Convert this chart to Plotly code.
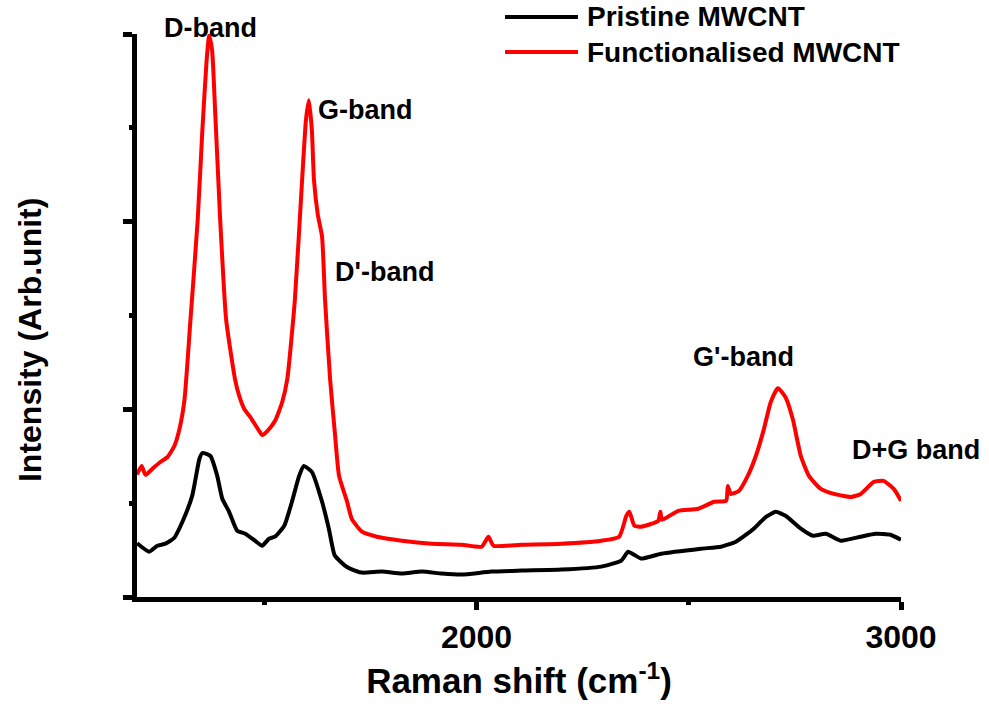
import plotly.graph_objects as go

# Raman shift (cm^-1) and intensity (arb. units)
func_x = [1200, 1211, 1220, 1236, 1255, 1272, 1288, 1300, 1312, 1326, 1343, 1354, 1364, 1370,
          1377, 1384, 1396, 1410, 1431, 1441, 1453, 1467, 1488, 1495, 1507, 1525, 1542, 1554,
          1572, 1589, 1598, 1605, 1612, 1617, 1626, 1636, 1643, 1655, 1666, 1676, 1695, 1706,
          1730, 1765, 1824, 1894, 1965, 2012, 2028, 2040, 2106, 2200, 2294, 2336, 2353, 2360,
          2372, 2388, 2428, 2433, 2437, 2475, 2522, 2560, 2588, 2592, 2599, 2618, 2639, 2658,
          2677, 2693, 2710, 2728, 2745, 2764, 2783, 2811, 2842, 2882, 2905, 2936, 2959, 2983, 3000]
func_y = [980, 1047, 976, 1024, 1079, 1119, 1207, 1342, 1581, 2218, 3015, 3731, 4289, 4488,
          4368, 3891, 3015, 2218, 1740, 1605, 1501, 1438, 1326, 1294, 1326, 1406, 1557, 1740,
          2377, 3333, 3811, 3971, 3732, 3333, 3055, 2879, 2377, 1740, 1318, 968, 761, 625,
          522, 482, 450, 426, 418, 402, 482, 410, 418, 426, 450, 482, 649, 681,
          569, 562, 609, 681, 617, 689, 705, 761, 769, 888, 824, 848, 968, 1127,
          1342, 1557, 1669, 1597, 1422, 1127, 968, 864, 824, 800, 824, 920, 928, 864, 769]

pris_x = [1200, 1229, 1248, 1267, 1288, 1307, 1330, 1347, 1354, 1373, 1389, 1401, 1417, 1436,
          1455, 1478, 1495, 1511, 1525, 1547, 1565, 1582, 1593, 1612, 1636, 1652, 1666, 1690,
          1702, 1730, 1777, 1824, 1871, 1918, 1965, 2035, 2106, 2200, 2294, 2341, 2357, 2371,
          2388, 2435, 2529, 2576, 2611, 2635, 2653, 2682, 2705, 2728, 2764, 2792, 2823, 2858,
          2905, 2940, 2975, 3000]
pris_y = [430, 362, 410, 426, 474, 601, 808, 1103, 1151, 1127, 968, 785, 681, 530,
          506, 450, 410, 466, 482, 569, 761, 968, 1047, 1000, 761, 546, 331, 251,
          227, 195, 203, 187, 203, 187, 179, 203, 211, 219, 243, 291, 362, 338,
          307, 346, 386, 402, 442, 498, 546, 641, 681, 649, 546, 490, 506, 450,
          482, 506, 498, 458]

series_names = ["Pristine MWCNT", "Functionalised MWCNT"]
series_colors = ["black", "#ff0000"]
band_labels = ["D-band", "G-band", "D'-band", "G'-band", "D+G band"]

FONT = "Liberation Sans, Arial, sans-serif"

fig = go.Figure()
fig.add_trace(go.Scatter(x=pris_x, y=pris_y, mode="lines", name=series_names[0], showlegend=False,
                         line=dict(color=series_colors[0], width=4, shape="spline", smoothing=0.5)))
fig.add_trace(go.Scatter(x=func_x, y=func_y, mode="lines", name=series_names[1], showlegend=False,
                         line=dict(color=series_colors[1], width=4, shape="spline", smoothing=0.5)))

# band labels (paper positions)
label_pos = [(0.0962, 1.0107), (0.2997, 0.865), (0.3246, 0.5773), (0.7938, 0.4263), (1.0196, 0.2611)]
for t, (px, py) in zip(band_labels, label_pos):
    fig.add_annotation(xref="paper", yref="paper", x=px, y=py, text=t, showarrow=False,
                       xanchor="center", yanchor="middle",
                       font=dict(family=FONT, size=27, color="black", weight="bold"))

# legend drawn manually (long line samples like the original)
legend_rows = [1.0302, 0.968]
for name, color, ly in zip(series_names, series_colors, legend_rows):
    fig.add_shape(type="line", xref="paper", yref="paper", x0=0.4817, x1=0.5772, y0=ly, y1=ly,
                  line=dict(color=color, width=4))
    fig.add_annotation(xref="paper", yref="paper", x=0.587, y=ly, text=name, showarrow=False,
                       xanchor="left", yanchor="middle",
                       font=dict(family=FONT, size=28, color="black", weight="bold"))

fig.add_annotation(xref="paper", yref="paper", x=-0.14, y=0.4565, text="Intensity (Arb.unit)",
                   textangle=-90, showarrow=False, xanchor="center", yanchor="middle",
                   font=dict(family=FONT, size=32, color="black", weight="bold"))

fig.update_layout(
    width=989, height=715,
    margin=dict(l=137, r=88, t=34, b=118),
    plot_bgcolor="white", paper_bgcolor="white",
    font=dict(family=FONT, color="black"),
    showlegend=False,
    xaxis=dict(range=[1200, 3000], showgrid=False, zeroline=False, showline=True,
               linecolor="black", linewidth=5, ticks="outside", ticklen=8, tickwidth=5,
               tickcolor="black", tick0=0, dtick=1000,
               minor=dict(dtick=500, ticks="outside", ticklen=3, tickwidth=5, tickcolor="black"),
               tickfont=dict(family=FONT, size=32, color="black", weight="bold"),
               title=dict(text="Raman shift (cm<sup>-1</sup>)", standoff=16,
                          font=dict(family=FONT, size=35, color="black", weight="bold"))),
    yaxis=dict(range=[0, 4500], showgrid=False, zeroline=False, showline=True,
               linecolor="black", linewidth=5, ticks="outside", ticklen=9, tickwidth=5,
               tickcolor="black", tick0=0, dtick=1500, showticklabels=False,
               minor=dict(dtick=750, ticks="outside", ticklen=3, tickwidth=5, tickcolor="black")),
)

fig.write_html("out.html")
